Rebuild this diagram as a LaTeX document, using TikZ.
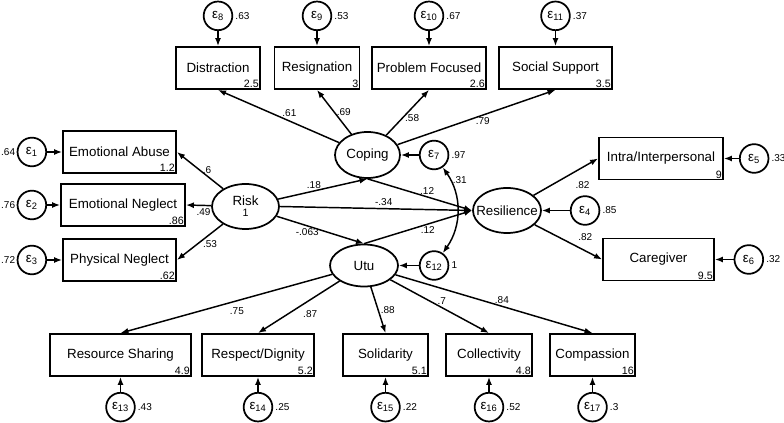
\documentclass[tikz,border=0pt]{standalone}
\usepackage{fontspec}
\setmainfont{Liberation Sans}
\usetikzlibrary{arrows.meta, positioning, shapes.geometric}
\begin{document}
\begin{tikzpicture}[x=0.75pt, y=-0.75pt, node distance=11.25pt, box/.style={rectangle, draw, line width=1.4pt, minimum height=31.5pt, inner sep=2pt, font=\fontsize{10}{12}\selectfont}, latent/.style={ellipse, draw, line width=1.3pt, inner xsep=-12pt, inner ysep=0pt, align=center, font=\fontsize{10}{12}\selectfont}, err/.style={circle, draw, line width=1.3pt, minimum size=21.5pt, inner sep=0pt, font=\fontsize{10}{12}\selectfont}, num/.style={anchor=south east, inner sep=1.4pt, font=\fontsize{8}{9}\selectfont}, var/.style={inner sep=1.5pt, font=\fontsize{7.5}{9}\selectfont}, lab/.style={inner sep=1.5pt, font=\fontsize{7.5}{9}\selectfont}, arrow/.style={-{Latex[length=6pt, width=4.5pt]}, line width=1.1pt}, dbl/.style={{Latex[length=6pt, width=4.5pt]}-{Latex[length=6pt, width=4.5pt]}, line width=1.1pt}]
\useasboundingbox (0,0) rectangle (784,423);
\node[box, minimum width=63pt, label={[num]south east:2.5}] (distraction) at (218,68) {Distraction};
\node[box, minimum width=63.75pt, label={[num]south east:3}] (resignation) at (317,68) {Resignation};
\node[box, minimum width=85.5pt, label={[num]south east:2.6}] (problem) at (429,68) {Problem Focused};
\node[box, minimum width=84.75pt, label={[num]south east:3.5}] (social) at (555.5,68) {Social Support};
\node[box, minimum width=84.75pt, label={[num]south east:1.2}] (emoabuse) at (119.5,152) {Emotional Abuse};
\node[box, minimum width=93pt, label={[num]south east:.86}] (emoneglect) at (123,205) {Emotional Neglect};
\node[box, minimum width=84.75pt, label={[num]south east:.62}] (physneglect) at (119.5,260) {Physical Neglect};
\node[box, minimum width=93pt, label={[num]south east:9}] (intra) at (661,158.5) {Intra/Interpersonal};
\node[box, minimum width=83.25pt, label={[num]south east:9.5}] (caregiver) at (658.5,259.5) {Caregiver};
\node[box, minimum width=105.75pt, label={[num]south east:4.9}] (resource) at (120.5,355) {Resource Sharing};
\node[box, minimum width=84pt, label={[num]south east:5.2}] (respect) at (258,355) {Respect/Dignity};
\node[box, minimum width=63.75pt, label={[num]south east:5.1}] (solidarity) at (385.5,355) {Solidarity};
\node[box, minimum width=64.5pt, label={[num]south east:4.8}] (collectivity) at (489,355) {Collectivity};
\node[box, minimum width=63.75pt, label={[num]south east:16}] (compassion) at (592.5,355) {Compassion};
\node[latent, minimum width=50.25pt, minimum height=33.75pt] (risk) at (245.5,206.5) {Risk\\[-4pt]{\fontsize{8}{9}\selectfont 1}};
\node[latent, minimum width=48.75pt, minimum height=34.5pt] (coping) at (367.5,155) {Coping};
\node[latent, minimum width=51pt, minimum height=33.75pt] (resilience) at (507,210.5) {Resilience};
\node[latent, minimum width=51pt, minimum height=31.5pt] (utu) at (364,265.5) {Utu};
\node[err, above=of distraction, label={[var]east:.63}] (e8) {ε\textsubscript{8}};
\node[err, above=of resignation, label={[var]east:.53}] (e9) {ε\textsubscript{9}};
\node[err, above=of problem, label={[var]east:.67}] (e10) {ε\textsubscript{10}};
\node[err, above=of social, label={[var]east:.37}] (e11) {ε\textsubscript{11}};
\node[err, left=of emoabuse, label={[var, inner sep=1pt]west:.64}] (e1) {ε\textsubscript{1}};
\node[err, left=9.75pt of emoneglect, label={[var, inner sep=1pt]west:.76}] (e2) {ε\textsubscript{2}};
\node[err, left=of physneglect, label={[var, inner sep=1pt]west:.72}] (e3) {ε\textsubscript{3}};
\node[err, right=of intra, label={[var]east:.33}] (e5) {ε\textsubscript{5}};
\node[err, right=14pt of caregiver, label={[var]east:.32}] (e6) {ε\textsubscript{6}};
\node[err, right=21pt of resilience, label={[var]east:.85}] (e4) {ε\textsubscript{4}};
\node[err, right=13.5pt of coping, label={[var]east:.97}] (e7) {ε\textsubscript{7}};
\node[err, right=15pt of utu, label={[var]east:1}] (e12) {ε\textsubscript{12}};
\node[err, below=of resource, label={[var]east:.43}] (e13) {ε\textsubscript{13}};
\node[err, below=of respect, label={[var]east:.25}] (e14) {ε\textsubscript{14}};
\node[err, below=of solidarity, label={[var]east:.22}] (e15) {ε\textsubscript{15}};
\node[err, below=of collectivity, label={[var]east:.52}] (e16) {ε\textsubscript{16}};
\node[err, below=of compassion, label={[var]east:.3}] (e17) {ε\textsubscript{17}};
\draw[arrow] (e8) -- (distraction);
\draw[arrow] (e9) -- (resignation);
\draw[arrow] (e10) -- (problem);
\draw[arrow] (e11) -- (social);
\draw[arrow] (e1) -- (emoabuse);
\draw[arrow] (e2) -- (emoneglect);
\draw[arrow] (e3) -- (physneglect);
\draw[arrow] (e5) -- (intra);
\draw[arrow] (e6) -- (caregiver);
\draw[arrow] (e4) -- (resilience);
\draw[arrow] (e7) -- (coping);
\draw[arrow] (e12) -- (utu);
\draw[arrow] (e13) -- (resource);
\draw[arrow] (e14) -- (respect);
\draw[arrow] (e15) -- (solidarity);
\draw[arrow] (e16) -- (collectivity);
\draw[arrow] (e17) -- (compassion);
\draw[dbl] (e7) to[bend left=35] node[lab, pos=.15, right=0pt] {.31} (e12);
\draw[arrow] (coping) -- node[lab, pos=.41, above=1pt] {.61} (distraction.south);
\draw[arrow] (coping) -- node[lab, pos=.5, right] {.69} (resignation.south);
\draw[arrow] (coping) -- node[lab, pos=.38, right] {.58} (problem.south);
\draw[arrow] (coping) -- node[lab, pos=.54, below] {.79} (social.south);
\draw[arrow] (risk) -- node[lab, pos=.5, right] {.6} (emoabuse.east);
\draw[arrow] (risk) -- node[lab, pos=.3, below] {.49} (emoneglect.east);
\draw[arrow] (risk) -- node[lab, pos=.28, below=3pt] {.53} (physneglect.east);
\draw[arrow] (risk) -- node[lab, pos=.4, above] {.18} (coping.south);
\draw[arrow] (risk.east) -- node[lab, pos=.54, above] {-.34} (resilience.west);
\draw[arrow] (risk) -- node[lab, pos=.35, below] {-.063} (utu.north);
\draw[arrow] (coping.south) -- node[lab, pos=.57, above] {.12} (resilience.west);
\draw[arrow] (utu.north) -- node[lab, pos=.59, below] {.12} (resilience.west);
\draw[arrow] (resilience) -- node[lab, pos=.55, below right=4pt] {.82} (intra.west);
\draw[arrow] (resilience) -- node[lab, pos=.58, above right=2pt] {.82} (caregiver.west);
\draw[arrow] (utu) -- node[lab, pos=.45, below=3pt] {.75} (resource.north);
\draw[arrow] (utu) -- node[lab, pos=.36, below=6pt] {.87} (respect.north);
\draw[arrow] (utu) -- node[lab, pos=.5, right] {.88} (solidarity.north);
\draw[arrow] (utu) -- node[lab, pos=.52, above] {.7} (collectivity.north);
\draw[arrow] (utu) -- node[lab, pos=.54, above] {.84} (compassion.north);
\end{tikzpicture}
\end{document}
